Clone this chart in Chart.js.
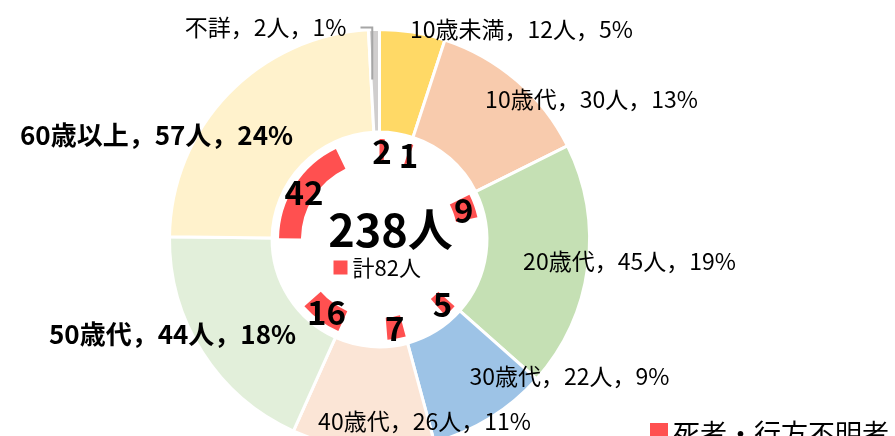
<!DOCTYPE html>
<html>
<head>
<meta charset="utf-8">
<script src="https://cdn.jsdelivr.net/npm/chart.js@4/dist/chart.umd.min.js"></script>
<style>
  html, body { margin: 0; padding: 0; background: #fff; overflow: hidden; }
  #wrap { width: 960px; height: 480px; }
</style>
</head>
<body>
<div id="wrap"><canvas id="myChart" width="960" height="480"></canvas></div>
<script>
const ctx = document.getElementById('myChart');

// data
var ageLabels = ['10歳未満', '10歳代', '20歳代', '30歳代', '40歳代', '50歳代', '60歳以上', '不詳'];
var ageCounts = [12, 30, 45, 22, 26, 44, 57, 2];
var deathCounts = [2, 1, 9, 5, 7, 16, 42, 0];
var legendText = '死者・行方不明者';

var ageColors = ['#FFD966', '#F8CBAD', '#C5E0B4', '#9DC3E6', '#FBE5D6', '#E2EFDA', '#FFF2CC', '#D0CECE'];
var red = '#FF5050';
var font = '"Noto Sans CJK JP", "Noto Sans", sans-serif';

var total = ageCounts.reduce((a, b) => a + b, 0);
var deathTotal = deathCounts.reduce((a, b) => a + b, 0);

// inner ring: for every age group a red part (deaths) then the rest left empty
var innerData = [];
var innerColors = [];
for (let i = 0; i < ageCounts.length; i++) {
  innerData.push(deathCounts[i], ageCounts[i] - deathCounts[i]);
  innerColors.push(red, 'rgba(0,0,0,0)');
}

// label centre offsets from the doughnut centre, and which ones are bold
var labelOffsets = [[142, -210], [212, -140], [250, 22], [190, 137], [45, 182], [-207, 95], [-223, -104], [-114, -212]];
var labelBold = [false, false, false, false, false, true, true, false];

const labelPlugin = {
  id: 'labelPlugin',
  afterDatasetsDraw(chart) {
    const c = chart.ctx;
    const outer = chart.getDatasetMeta(0).data;
    const inner = chart.getDatasetMeta(2).data;
    const cx = outer[0].x, cy = outer[0].y;
    c.save();
    c.textBaseline = 'middle';
    c.textAlign = 'center';
    c.fillStyle = '#000';

    // outer labels
    for (let i = 0; i < outer.length; i++) {
      const pct = Math.round(ageCounts[i] / total * 100);
      const txt = ageLabels[i] + '，' + ageCounts[i] + '人，' + pct + '%';
      c.font = (labelBold[i] ? 'bold 26px ' : '23px ') + font;
      c.fillText(txt, cx + labelOffsets[i][0], cy + labelOffsets[i][1]);
    }

    // leader line for the tiny 不詳 slice
    const a = outer[outer.length - 1];
    const mid = (a.startAngle + a.endAngle) / 2;
    const r = a.outerRadius - 50;
    c.strokeStyle = '#A6A6A6';
    c.lineWidth = 2;
    c.beginPath();
    c.moveTo(cx + labelOffsets[7][0] + 95, cy + labelOffsets[7][1]);
    c.lineTo(cx + Math.cos(mid) * r - 3, cy + labelOffsets[7][1]);
    c.lineTo(cx + Math.cos(mid) * r - 3, cy + Math.sin(mid) * r);
    c.stroke();

    // death numbers on the red arcs
    c.font = 'bold 33px ' + font;
    for (let i = 0; i < deathCounts.length; i++) {
      if (!deathCounts[i]) continue;
      const p = inner[i * 2].tooltipPosition();
      c.fillText(String(deathCounts[i]), p.x, p.y + 1);
    }

    // centre text
    c.font = 'bold 45px ' + font;
    c.fillText(total + '人', cx + 11, cy - 10);
    c.font = '22px ' + font;
    c.textAlign = 'left';
    c.fillText('計' + deathTotal + '人', cx - 27, cy + 28);
    c.fillStyle = red;
    c.fillRect(cx - 46, cy + 21, 14, 14);

    // legend (runs off the picture like the original)
    c.fillRect(650, 423, 18, 18);
    c.fillStyle = '#000';
    c.font = '27px ' + font;
    c.fillText(legendText, 673, 434);
    c.restore();
  }
};

var chart = new Chart(ctx, {
  type: 'doughnut',
  data: {
    labels: ageLabels,
    datasets: [{
      data: ageCounts,
      backgroundColor: ageColors,
      borderColor: '#FFFFFF',
      borderWidth: 3,
      weight: 103
    }, {
      data: [1],
      backgroundColor: 'rgba(0,0,0,0)',
      borderWidth: 0,
      weight: 7
    }, {
      data: innerData,
      backgroundColor: innerColors,
      borderWidth: 0,
      weight: 22
    }]
  },
  options: {
    responsive: false,
    animation: false,
    cutout: '37.4%',
    layout: {
      padding: { left: 168, right: 369, top: 28, bottom: 29 }
    },
    plugins: {
      legend: { display: false },
      tooltip: { enabled: false }
    }
  },
  plugins: [labelPlugin]
});
</script>
</body>
</html>
